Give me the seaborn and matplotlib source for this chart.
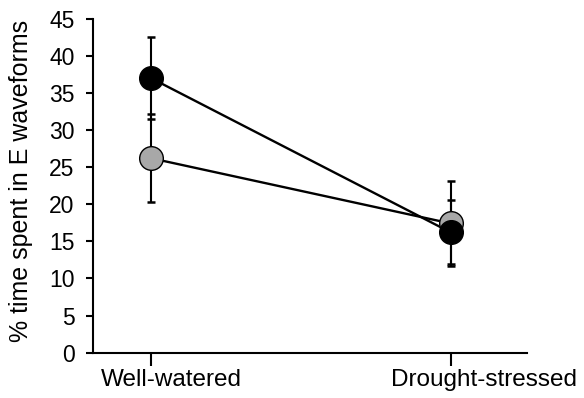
import matplotlib
matplotlib.use("Agg")
import matplotlib.pyplot as plt
import matplotlib.transforms as mtransforms
import seaborn as sns
import pandas as pd

# Data
conditions = ["Well-watered", "Drought-stressed"]
black_mean = [37.0, 16.2]
black_err = [5.5, 4.3]
grey_mean = [26.2, 17.4]
grey_err = [5.9, 5.7]
ytick_vals = [0, 5, 10, 15, 20, 25, 30, 35, 40, 45]

sns.set_style("ticks")
plt.rcParams["font.family"] = ["Liberation Sans", "DejaVu Sans"]
plt.rcParams.update({"text.color": "black", "axes.labelcolor": "black",
                     "xtick.color": "black", "ytick.color": "black",
                     "axes.edgecolor": "black"})

df = pd.DataFrame({
    "condition": conditions * 2,
    "value": grey_mean + black_mean,
    "err": grey_err + black_err,
    "group": ["grey"] * 2 + ["black"] * 2,
})

fig = plt.figure(figsize=(5.84, 3.98), dpi=100)
ax = fig.add_axes([0.1587, 0.1138, 0.9024 - 0.1587, 0.9535 - 0.1138])

# error bars (drawn beneath markers)
for grp in ["black", "grey"]:
    sub = df[df["group"] == grp]
    ax.errorbar(sub["condition"], sub["value"], yerr=sub["err"], fmt="none",
                ecolor="black", elinewidth=1.5, capsize=3.0, capthick=1.8, zorder=1)

sns.lineplot(data=df, x="condition", y="value", hue="group",
             palette={"grey": "black", "black": "black"},
             hue_order=["grey", "black"], sort=False,
             linewidth=1.7, legend=False, ax=ax, zorder=2)

for grp, fc, z in [("grey", "#a8a8a8", 3), ("black", "black", 4)]:
    sub = df[df["group"] == grp]
    sns.scatterplot(x=sub["condition"], y=sub["value"], s=290, color=fc,
                    edgecolor="black", linewidth=1.0, ax=ax, zorder=z, legend=False)

ax.set_xlim(-0.193, 1.254)
ax.set_ylim(0, 45)
ax.set_yticks(ytick_vals)
ax.set_yticklabels([str(v) for v in ytick_vals])
ax.set_xlabel("")
ax.set_ylabel("% time spent in E waveforms", fontsize=18, color="black")
ax.yaxis.set_label_coords(-0.138, 0.514)
ax.tick_params(axis="y", labelsize=16.5, length=5, width=1.5, colors="black", pad=8)
ax.tick_params(axis="x", labelsize=17.5, length=9.5, width=1.5, colors="black", pad=2)
for s in ["top", "right"]:
    ax.spines[s].set_visible(False)
for s in ["left", "bottom"]:
    ax.spines[s].set_linewidth(1.5)
    ax.spines[s].set_color("black")

# shift x tick labels slightly right as in the reference
offsets = [21, 33]
for lab, dx in zip(ax.get_xticklabels(), offsets):
    lab.set_transform(lab.get_transform() +
                      mtransforms.ScaledTranslation(dx / 100, 0, fig.dpi_scale_trans))

fig.savefig("out.png", dpi=100)
